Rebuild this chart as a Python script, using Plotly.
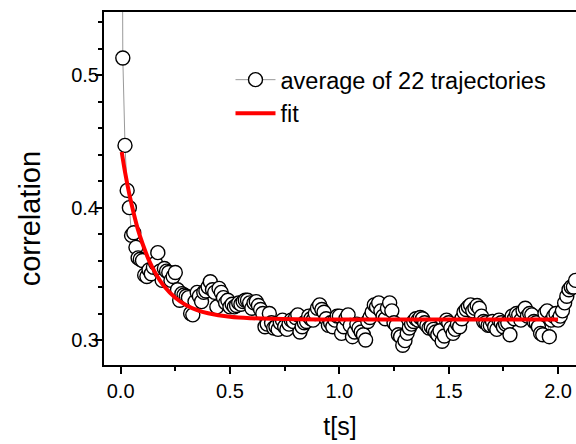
import plotly.graph_objects as go

# measured average correlation (dt = 0.01 s)
t_data = [round(i * 0.01, 2) for i in range(209)]
corr = [
    1.000, 0.513, 0.447, 0.413, 0.400, 0.379, 0.381, 0.370, 0.362, 0.361,
    0.360, 0.349, 0.348, 0.353, 0.350, 0.355, 0.358, 0.366, 0.352, 0.345,
    0.354, 0.352, 0.351, 0.345, 0.348, 0.351, 0.338, 0.330, 0.335, 0.334,
    0.333, 0.332, 0.320, 0.319, 0.329, 0.336, 0.333, 0.329, 0.336, 0.337,
    0.340, 0.344, 0.338, 0.336, 0.325, 0.339, 0.336, 0.332, 0.328, 0.330,
    0.325, 0.327, 0.325, 0.326, 0.328, 0.327, 0.329, 0.330, 0.330, 0.328,
    0.324, 0.328, 0.329, 0.326, 0.323, 0.320, 0.310, 0.312, 0.320, 0.313,
    0.309, 0.310, 0.308, 0.313, 0.315, 0.310, 0.308, 0.312, 0.315, 0.314,
    0.317, 0.319, 0.306, 0.310, 0.313, 0.314, 0.318, 0.316, 0.315, 0.320,
    0.324, 0.3265, 0.323, 0.321, 0.316, 0.311, 0.313, 0.310, 0.315, 0.318,
    0.318, 0.305, 0.310, 0.316, 0.319, 0.311, 0.3025, 0.306, 0.312, 0.309,
    0.306, 0.304, 0.300, 0.314, 0.317, 0.321, 0.3265, 0.325, 0.328, 0.322,
    0.318, 0.316, 0.324, 0.328, 0.322, 0.313, 0.311, 0.304, 0.3025, 0.296,
    0.2995, 0.305, 0.309, 0.312, 0.314, 0.316, 0.315, 0.317, 0.316, 0.313,
    0.311, 0.309, 0.310, 0.308, 0.306, 0.304, 0.307, 0.299, 0.303, 0.315,
    0.313, 0.309, 0.305, 0.308, 0.312, 0.310, 0.316, 0.321, 0.323, 0.325,
    0.3265, 0.322, 0.324, 0.326, 0.324, 0.318, 0.314, 0.313, 0.311, 0.311,
    0.314, 0.310, 0.308, 0.315, 0.313, 0.310, 0.312, 0.313, 0.304, 0.318,
    0.316, 0.320, 0.319, 0.315, 0.322, 0.324, 0.318, 0.320, 0.319, 0.314,
    0.313, 0.310, 0.305, 0.304, 0.320, 0.322, 0.3025, 0.315, 0.318, 0.320,
    0.315, 0.318, 0.322, 0.328, 0.333, 0.338, 0.340, 0.340, 0.345,
]

# fitted curve
t_fit = [0.005, 0.02, 0.04, 0.06, 0.08, 0.10, 0.13, 0.16, 0.20, 0.25,
         0.30, 0.35, 0.40, 0.50, 0.60, 0.80, 1.00, 1.50, 2.00]
fit = [0.442, 0.427, 0.410, 0.3956, 0.383, 0.3729, 0.3600, 0.3503, 0.3404, 0.3319,
       0.3263, 0.3226, 0.3202, 0.3175, 0.3164, 0.3156, 0.3155, 0.3155, 0.3155]

x_ticks = [0.0, 0.5, 1.0, 1.5, 2.0]
x_ticklabels = ["0.0", "0.5", "1.0", "1.5", "2.0"]
y_ticks = [0.3, 0.4, 0.5]
y_ticklabels = ["0.3", "0.4", "0.5"]

FONT = "Liberation Sans"

fig = go.Figure()
fig.add_trace(go.Scatter(
    x=t_data, y=corr, mode="lines+markers",
    name="average of 22 trajectories",
    line=dict(color="#9a9a9a", width=1),
    marker=dict(symbol="circle", size=14, color="white",
                line=dict(color="black", width=1.4)),
))
fig.add_trace(go.Scatter(
    x=t_fit, y=fit, mode="lines", name="fit",
    line=dict(color="#ff0000", width=4, shape="spline"),
))

fig.update_layout(
    width=576, height=444,
    margin=dict(l=104, r=0, t=12, b=79),
    paper_bgcolor="white", plot_bgcolor="white",
    font=dict(family=FONT, size=20, color="black"),
    showlegend=True,
    legend=dict(x=0.268, y=0.87, xanchor="left", yanchor="top",
                bgcolor="rgba(0,0,0,0)", font=dict(size=23.5),
                tracegroupgap=0, itemwidth=40),
    annotations=[dict(text="correlation", x=-0.158, xref="paper", y=0.414, yref="paper",
                      showarrow=False, textangle=-90, font=dict(size=29),
                      xanchor="center", yanchor="middle")],
)

fig.update_xaxes(
    range=[-0.076, 2.082], showgrid=False, zeroline=False,
    showline=True, linewidth=2, linecolor="black", mirror=True,
    tickmode="array", tickvals=x_ticks, ticktext=x_ticklabels,
    ticks="outside", ticklen=7, tickwidth=2, tickcolor="black",
    minor=dict(dtick=0.25, tick0=0, ticks="outside", ticklen=4, tickwidth=2, tickcolor="black"),
    tickfont=dict(size=20),
    title=dict(text="t[s]", font=dict(size=25), standoff=16),
)
fig.update_yaxes(
    range=[0.2811, 0.5478], showgrid=False, zeroline=False,
    showline=True, linewidth=2, linecolor="black", mirror=False,
    tickmode="array", tickvals=y_ticks, ticktext=y_ticklabels,
    ticks="outside", ticklen=7, tickwidth=2, tickcolor="black",
    minor=dict(dtick=0.02, tick0=0.3, ticks="outside", ticklen=4, tickwidth=2, tickcolor="black"),
    tickfont=dict(size=20), ticklabelstandoff=-8,
)

fig.write_html("out.html")
